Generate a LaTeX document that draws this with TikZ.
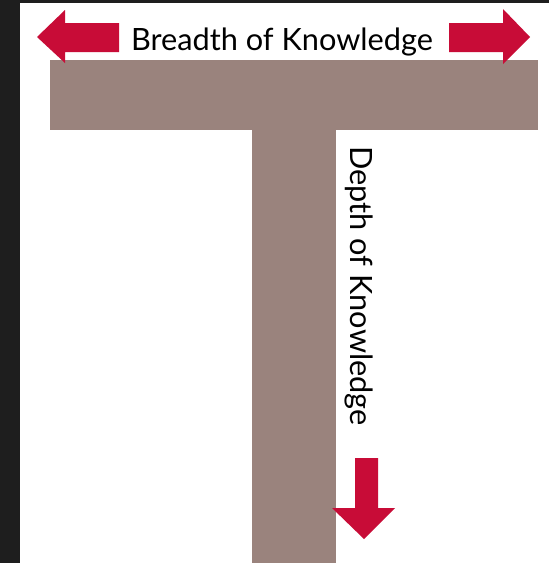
\documentclass[tikz,border=0pt]{standalone}
\usepackage{fontspec}
\setmainfont{Lato}
\definecolor{tbrown}{RGB}{154,131,125}
\definecolor{tred}{RGB}{200,12,55}
\definecolor{darkedge}{RGB}{30,30,30}
\begin{document}
\begin{tikzpicture}[x=1pt,y=-1pt,
  bar/.style={fill=tbrown,draw=none},
  redarrow/.style={fill=tred,draw=none},
  label/.style={font=\fontsize{30.7}{36}\selectfont,text=black,inner sep=0pt}]
\useasboundingbox (0,0) rectangle (549,563);
\fill[darkedge] (0,0) rectangle (549,563);
\fill[white] (20,3) rectangle (549,563);
% T shape
\path[bar] (50,60) rectangle (538,130);
\path[bar] (252,130) rectangle (336,563);
% arrows
\path[redarrow] (37,37) -- (65,10) -- (65,23) -- (119,23) -- (119,52) -- (65,52) -- (65,63) -- cycle;
\path[redarrow] (530,37) -- (503,9) -- (503,23) -- (449,23) -- (449,52) -- (503,52) -- (503,64) -- cycle;
\path[redarrow] (364,539) -- (332,508) -- (355,508) -- (355,458) -- (378,458) -- (378,508) -- (395,508) -- cycle;
% labels
\node[label,anchor=base] (breadth) at (282,50) {Breadth of Knowledge};
\node[label,anchor=base,rotate=-90] (depth) at (350,286) {Depth of Knowledge};
\end{tikzpicture}
\end{document}
